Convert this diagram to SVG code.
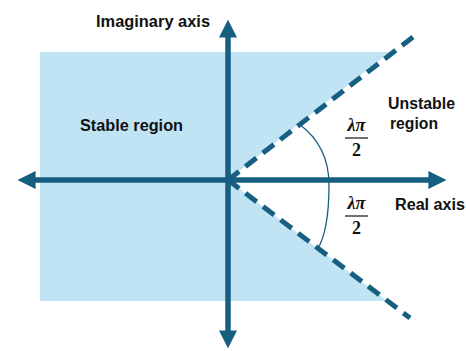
<svg xmlns="http://www.w3.org/2000/svg" width="466" height="351" viewBox="0 0 466 351">
<style>
.lbl{font-family:"Liberation Sans",Arial,sans-serif;font-weight:bold;font-size:16px;fill:#111}
.math{font-family:"Liberation Serif","Times New Roman",serif;font-weight:bold;font-style:italic;font-size:18px;fill:#111}
.num{font-family:"Liberation Serif","Times New Roman",serif;font-weight:bold;font-size:18px;fill:#111}
.axis{stroke:#175f80;stroke-width:5;fill:none}
.dash{stroke:#175f80;stroke-width:5;fill:none;stroke-dasharray:14 8}
</style>
<defs>
<marker id="ah" viewBox="0 0 10 10" refX="2" refY="5" markerWidth="3.6" markerHeight="3.6" orient="auto" markerUnits="strokeWidth">
<path d="M0,0 L10,5 L0,10 z" fill="#175f80"/>
</marker>
</defs>
<g id="stable-region">
<polygon points="40,52 390,52 228,180 387,301 40,301" fill="#c1e4f5"/>
<text class="lbl" x="80" y="131" textLength="103" lengthAdjust="spacingAndGlyphs">Stable region</text>
</g>
<g id="connectors">
<line class="dash" x1="228" y1="180" x2="413" y2="37"/>
<line class="dash" x1="228" y1="180" x2="410" y2="318"/>
<line class="axis" x1="228" y1="334" x2="228" y2="34" marker-end="url(#ah)"/>
<line class="axis" x1="228" y1="34" x2="228" y2="334" marker-end="url(#ah)"/>
<line class="axis" x1="32" y1="180" x2="432" y2="180" marker-end="url(#ah)"/>
<line class="axis" x1="432" y1="180" x2="32" y2="180" marker-end="url(#ah)"/>
<path d="M299,124 C321,140 329,163 329,185 C329,212 326,236 317,250" stroke="#175f80" stroke-width="1.3" fill="none"/>
</g>
<g id="imag-label"><text class="lbl" x="96" y="27" textLength="114" lengthAdjust="spacingAndGlyphs">Imaginary axis</text></g>
<g id="real-label"><text class="lbl" x="395" y="210" textLength="70" lengthAdjust="spacingAndGlyphs">Real axis</text></g>
<g id="unstable-region">
<text class="lbl" x="388" y="109" textLength="67" lengthAdjust="spacingAndGlyphs">Unstable</text>
<text class="lbl" x="390" y="129" textLength="48" lengthAdjust="spacingAndGlyphs">region</text>
</g>
<g id="angle-upper">
<text class="math" x="356.5" y="131" text-anchor="middle">λπ</text>
<line x1="345" y1="138" x2="368" y2="138" stroke="#111" stroke-width="1.2"/>
<text class="num" x="356.5" y="156" text-anchor="middle">2</text>
</g>
<g id="angle-lower">
<text class="math" x="356.5" y="209" text-anchor="middle">λπ</text>
<line x1="345" y1="216" x2="368" y2="216" stroke="#111" stroke-width="1.2"/>
<text class="num" x="356.5" y="234" text-anchor="middle">2</text>
</g>
</svg>
